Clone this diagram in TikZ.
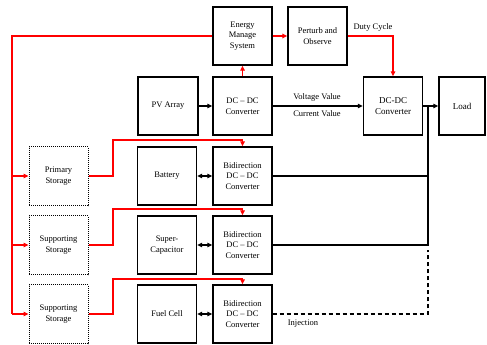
\documentclass[tikz,border=0pt]{standalone}
\usepackage{fontspec}
\setmainfont{Liberation Serif}
\usetikzlibrary{arrows.meta}
\begin{document}
\begin{tikzpicture}[x=1pt,y=-1pt,
  blk/.style={draw, line width=1.3pt, minimum width=59pt, minimum height=58pt, align=center, inner sep=1pt, font=\fontsize{8.5}{10.5}\selectfont},
  dotbox/.style={draw, densely dotted, line width=1pt, minimum width=59pt, minimum height=59pt, align=center, inner sep=1pt, font=\fontsize{8.5}{10.5}\selectfont},
  lbl/.style={font=\fontsize{8.5}{10.5}\selectfont, inner sep=1pt},
  rl/.style={red, line width=1.3pt},
  ra/.style={rl, -{Triangle[length=5pt,width=4.5pt]}},
  bl/.style={black, line width=1.2pt},
  ba/.style={bl, -{Triangle[length=5pt,width=4.5pt]}},
  bda/.style={bl, {Triangle[length=5pt,width=4.5pt]}-{Triangle[length=5pt,width=4.5pt]}}]
\useasboundingbox (0,0) rectangle (487,345);
\node[blk] (ems) at (242.5,36) {Energy\\Manage\\System};
\node[blk] (po) at (317.5,36) {Perturb and\\Observe};
\node[blk] (dc1) at (242.5,106) {DC -- DC\\Converter};
\node[blk, minimum width=60pt] (pv) at (168,106) {PV Array};
\node[blk, font=\fontsize{9}{11}\selectfont] (dc2) at (393,106) {DC-DC\\Converter};
\node[blk, minimum width=46pt, font=\fontsize{9}{11}\selectfont] (load) at (462,106) {Load};
\node[dotbox] (ps) at (58.5,176) {Primary\\Storage};
\node[blk] (bat) at (167,176) {Battery};
\node[blk] (bd1) at (242.5,176) {Bidirection\\DC -- DC\\Converter};
\node[dotbox] (ss1) at (58.5,245) {Supporting\\Storage};
\node[blk] (sc) at (167,245) {Super-\\Capacitor};
\node[blk] (bd2) at (242.5,245) {Bidirection\\DC -- DC\\Converter};
\node[dotbox] (ss2) at (58.5,314) {Supporting\\Storage};
\node[blk] (fc) at (167,314) {Fuel Cell};
\node[blk] (bd3) at (242.5,314) {Bidirection\\DC -- DC\\Converter};
% red control lines
\coordinate (rtop) at (12,36);
\coordinate (rbot) at (12,314);
\draw[rl] (ems.west) -- (rtop) -- (rbot);
\draw[ra] (rtop |- ps.west) -- (ps.west);
\draw[ra] (rtop |- ss1.west) -- (ss1.west);
\draw[ra] (rtop |- ss2.west) -- (ss2.west);
\draw[ra] (ems) -- (po);
\draw[ra] (dc1) -- (ems);
\draw[ra] (po.east) -| (dc2.north);
\node[lbl] (duty) at (373,27) {Duty Cycle};
\coordinate (k1) at (113,140);
\coordinate (k2) at (113,209);
\coordinate (k3) at (113,279);
\draw[ra] (ps.east) -| (k1) -| (bd1.north);
\draw[ra] (ss1.east) -| (k2) -| (bd2.north);
\draw[ra] (ss2.east) -| (k3) -| (bd3.north);
% black power lines
\draw[ba] (pv) -- (dc1);
\draw[ba] (dc1) -- (dc2);
\node[lbl] (vv) at (317,97) {Voltage Value};
\node[lbl] (cv) at (317,114) {Current Value};
\draw[ba] (dc2) -- (load);
\coordinate (bus) at (428,106);
\coordinate (inj) at (428,250);
\draw[bl] (bd2.east) -| (bus);
\draw[bl] (bd1.east) -- (bd1.east -| bus);
\draw[bl, dashed, dash pattern=on 4pt off 3pt] (bd3.east) -| (inj);
\node[lbl] (injl) at (303,324) {Injection};
\draw[bda] (bat) -- (bd1);
\draw[bda] (sc) -- (bd2);
\draw[bda] (fc) -- (bd3);
\end{tikzpicture}
\end{document}
